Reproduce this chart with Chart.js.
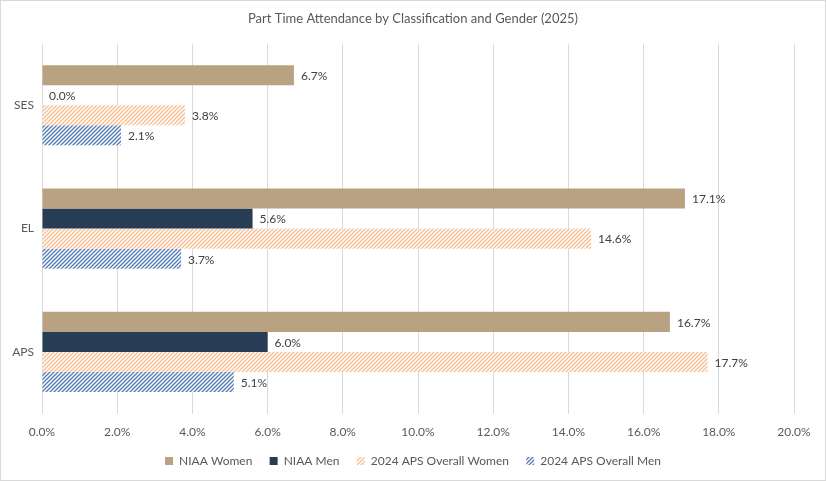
<!DOCTYPE html>
<html>
<head>
<meta charset="utf-8">
<script src="https://cdn.jsdelivr.net/npm/chart.js@4"></script>
<style>
  body { margin: 0; background: #fff; }
  #wrap { width: 826px; height: 481px; box-sizing: border-box; border: 1px solid #d9d9d9; position: relative; }
</style>
</head>
<body>
<div id="wrap"><canvas id="grafico"></canvas></div>
<script>
const categorie = ["SES", "EL", "APS"];
const niaaDonne = [6.7, 17.1, 16.7];
const niaaUomini = [0.0, 5.6, 6.0];
const apsDonne = [3.8, 14.6, 17.7];
const apsUomini = [2.1, 3.7, 5.1];
const tickValori = [0, 2, 4, 6, 8, 10, 12, 14, 16, 18, 20];

const tratteggio = function (colore, sfondo) {
  const s = 4;
  const c = document.createElement("canvas");
  c.width = s;
  c.height = s;
  const ctx = c.getContext("2d");
  ctx.fillStyle = sfondo;
  ctx.fillRect(0, 0, s, s);
  ctx.strokeStyle = colore;
  ctx.lineWidth = 1.3;
  ctx.beginPath();
  ctx.moveTo(0, s); ctx.lineTo(s, 0);
  ctx.moveTo(-1, 1); ctx.lineTo(1, -1);
  ctx.moveTo(s - 1, s + 1); ctx.lineTo(s + 1, s - 1);
  ctx.stroke();
  return ctx.createPattern(c, "repeat");
};

const etichetteBarre = {
  id: "etichetteBarre",
  afterDatasetsDraw(chart) {
    const ctx = chart.ctx;
    ctx.save();
    ctx.font = "12px Lato";
    ctx.fillStyle = "#404040";
    ctx.textBaseline = "middle";
    ctx.textAlign = "left";
    chart.data.datasets.forEach((ds, i) => {
      chart.getDatasetMeta(i).data.forEach((el, j) => {
        ctx.fillText(ds.data[j].toFixed(1) + "%", el.x + 7, el.y + 1);
      });
    });
    ctx.restore();
  },
};

const canvas = document.getElementById("grafico");
new Chart(canvas, {
  type: "bar",
  data: {
    labels: categorie,
    datasets: [
      { label: "NIAA Women", data: niaaDonne, backgroundColor: "#B9A282" },
      { label: "NIAA Men", data: niaaUomini, backgroundColor: "#263D55" },
      { label: "2024 APS Overall Women", data: apsDonne, backgroundColor: tratteggio("#F7BE90", "#ffffff") },
      { label: "2024 APS Overall Men", data: apsUomini, backgroundColor: tratteggio("#4E7AB5", "#ffffff") },
    ],
  },
  options: {
    indexAxis: "y",
    responsive: true,
    maintainAspectRatio: false,
    animation: false,
    categoryPercentage: 0.65,
    barPercentage: 1,
    layout: { padding: { left: 0, right: 0, top: 0, bottom: 3 } },
    scales: {
      x: {
        min: 0,
        max: 20,
        afterBuildTicks: (s) => { s.ticks = tickValori.map((v) => ({ value: v })); },
        afterFit: (s) => { s.paddingRight = 31; },
        ticks: {
          callback: (v) => v.toFixed(1) + "%",
          color: "#595959",
          font: { family: "Lato", size: 12 },
          padding: 11,
        },
        grid: { color: "#d9d9d9", drawTicks: false },
        border: { display: false },
      },
      y: {
        afterFit: (s) => { s.width = 41; },
        ticks: { color: "#595959", font: { family: "Lato", size: 12 }, padding: 8 },
        grid: { display: false, drawTicks: false },
        border: { display: false },
      },
    },
    plugins: {
      title: {
        display: true,
        text: "Part Time Attendance by Classification and Gender (2025)",
        color: "#595959",
        font: { family: "Lato", size: 13, weight: "normal" },
        padding: { top: 10, bottom: 17 },
      },
      legend: {
        position: "bottom",
        labels: {
          color: "#595959",
          font: { family: "Lato", size: 12 },
          boxWidth: 8,
          boxHeight: 8,
          padding: 5,
          // spazio extra tra le voci, come nell'originale
          generateLabels: (chart) => {
            const voci = Chart.defaults.plugins.legend.labels.generateLabels(chart);
            voci.forEach((v, i) => {
              if (i < voci.length - 1) v.text = v.text + "    ";
            });
            return voci;
          },
        },
      },
      tooltip: { enabled: false },
    },
  },
  plugins: [etichetteBarre],
});
</script>
</body>
</html>
